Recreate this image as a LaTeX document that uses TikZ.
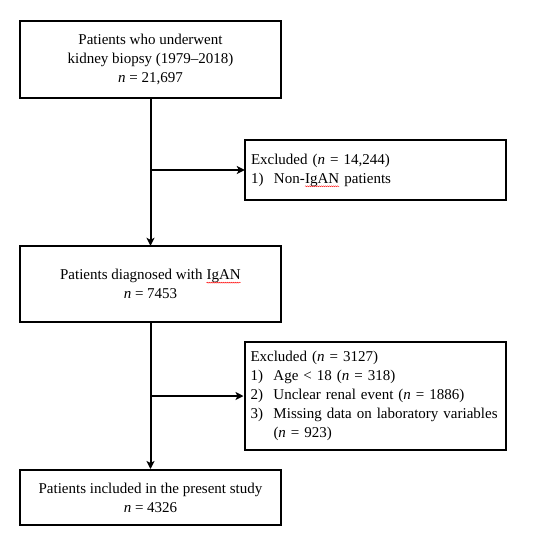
\documentclass[tikz,border=0pt]{standalone}
\usepackage{fontspec}
\setmainfont{Liberation Serif}
\usepackage{xcolor}
\usepackage{tikz}
\usetikzlibrary{positioning,arrows.meta,decorations.pathmorphing}

\newcommand{\spellwave}[1]{\tikz[baseline=(w.base)]{%
    \node[draw=none, inner sep=0pt, minimum width=0pt, minimum height=0pt, text width=, outer sep=0pt] (w) {#1};
    \draw[-, red, line width=0.4pt, decorate, decoration={snake, amplitude=0.5pt, segment length=2pt}]
        ([yshift=-3pt]w.base west) -- ([yshift=-3pt]w.base east);}}

\begin{document}
\begin{tikzpicture}[
    x=1pt, y=-1pt,
    ->,
    >={Stealth[length=8pt,width=8pt,inset=2pt]},
    line width=2pt
]

\tikzstyle{stage}=[
    draw,
    -,
    minimum width=261pt,
    inner sep=6pt,
    align=center,
    font=\fontsize{15}{19}\selectfont
]
\tikzstyle{excluded}=[
    stage,
    text width=249pt,
    align=left
]

\useasboundingbox (0,0) rectangle (541,550);

\node[stage, minimum height=77pt] (biopsy) at (150.5,59.5)
    {Patients who underwent\\ kidney biopsy (1979--2018)\\ \textit{n} = 21,697};

\node[excluded, minimum height=60pt] (nonigan) at (375.5,170) {%
    \begin{tabular}{@{}p{23pt}@{}l@{}}
    \multicolumn{2}{@{}l@{}}{Excluded (\textit{n} = 14,244)}\\
    1) & Non-\spellwave{IgAN} patients
    \end{tabular}};

\node[stage, minimum height=76pt] (igan) at (150.5,284)
    {Patients diagnosed with \spellwave{IgAN}\\ \textit{n} = 7453};

\node[excluded, minimum height=108pt] (dropped) at (375,396) {%
    \begin{tabular}{@{}p{23pt}@{}l@{}}
    \multicolumn{2}{@{}l@{}}{Excluded (\textit{n} = 3127)}\\
    1) & Age < 18 (\textit{n} = 318)\\
    2) & Unclear renal event (\textit{n} = 1886)\\
    3) & Missing data on laboratory variables\\
       & (\textit{n} = 923)
    \end{tabular}};

\node[stage, minimum height=55pt] (study) at (150.5,497.5)
    {Patients included in the present study\\ \textit{n} = 4326};

% flow
\coordinate (split1) at (150.5,170);
\coordinate (split2) at (150.5,396);

\draw (biopsy) -- (igan);
\draw (igan) -- (study);
\draw (split1) -- (nonigan);
\draw (split2) -- (dropped);

\end{tikzpicture}
\end{document}
